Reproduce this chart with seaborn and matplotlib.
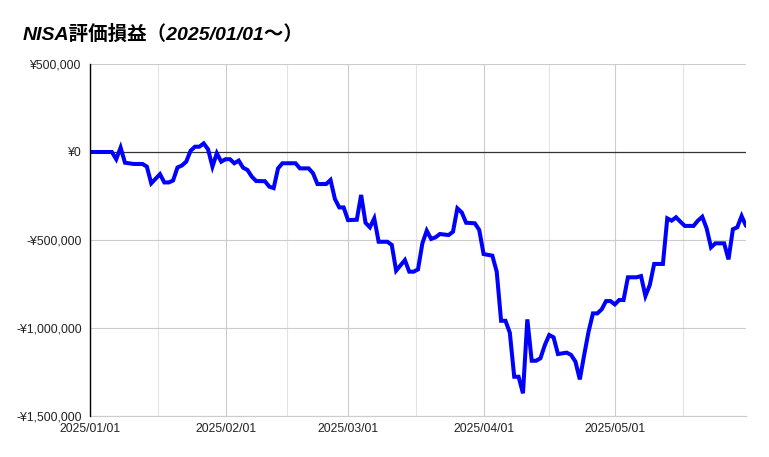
import matplotlib
matplotlib.use("Agg")
import matplotlib.pyplot as plt
import matplotlib.dates as mdates
from matplotlib.ticker import FuncFormatter, FixedLocator
import seaborn as sns
import pandas as pd

title_text = "NISA評価損益（2025/01/01～）"

dates = [
    "2025-01-01", "2025-01-06", "2025-01-07", "2025-01-08", "2025-01-09", "2025-01-11",
    "2025-01-13", "2025-01-14", "2025-01-15", "2025-01-17", "2025-01-18", "2025-01-19",
    "2025-01-20", "2025-01-21", "2025-01-22", "2025-01-23", "2025-01-24", "2025-01-25",
    "2025-01-26", "2025-01-27", "2025-01-28", "2025-01-29", "2025-01-30", "2025-01-31",
    "2025-02-01", "2025-02-02", "2025-02-03", "2025-02-04", "2025-02-05", "2025-02-06",
    "2025-02-07", "2025-02-08", "2025-02-10", "2025-02-11", "2025-02-12", "2025-02-13",
    "2025-02-14", "2025-02-17", "2025-02-18", "2025-02-20", "2025-02-21", "2025-02-22",
    "2025-02-24", "2025-02-25", "2025-02-26", "2025-02-27", "2025-02-28",
    "2025-03-01", "2025-03-03", "2025-03-04", "2025-03-05", "2025-03-06", "2025-03-07",
    "2025-03-08", "2025-03-10", "2025-03-11", "2025-03-12", "2025-03-14", "2025-03-15",
    "2025-03-16", "2025-03-17", "2025-03-18", "2025-03-19", "2025-03-20", "2025-03-21",
    "2025-03-22", "2025-03-24", "2025-03-25", "2025-03-26", "2025-03-27", "2025-03-28",
    "2025-03-30", "2025-03-31",
    "2025-04-01", "2025-04-03", "2025-04-04", "2025-04-05", "2025-04-06", "2025-04-07",
    "2025-04-08", "2025-04-09", "2025-04-10", "2025-04-11", "2025-04-12", "2025-04-13",
    "2025-04-14", "2025-04-15", "2025-04-16", "2025-04-17", "2025-04-18", "2025-04-20",
    "2025-04-21", "2025-04-22", "2025-04-23", "2025-04-24", "2025-04-25", "2025-04-26",
    "2025-04-27", "2025-04-28", "2025-04-29", "2025-04-30",
    "2025-05-01", "2025-05-02", "2025-05-03", "2025-05-04", "2025-05-06", "2025-05-07",
    "2025-05-08", "2025-05-09", "2025-05-10", "2025-05-12", "2025-05-13", "2025-05-14",
    "2025-05-15", "2025-05-16", "2025-05-17", "2025-05-19", "2025-05-20", "2025-05-21",
    "2025-05-22", "2025-05-23", "2025-05-24", "2025-05-26", "2025-05-27", "2025-05-28",
    "2025-05-29", "2025-05-30", "2025-05-31",
]

values = [
    0, 0, -41000, 25000, -61000, -68000,
    -68000, -83000, -178000, -126000, -173000, -173000,
    -162000, -88000, -77000, -55000, 7000, 30000,
    30000, 49000, 15000, -83000, -7000, -55000,
    -41000, -41000, -64000, -49000, -89000, -102000,
    -140000, -165000, -166000, -197000, -205000, -93000,
    -64000, -64000, -93000, -93000, -121000, -182000,
    -182000, -159000, -267000, -315000, -315000,
    -387000, -385000, -244000, -402000, -428000, -377000,
    -510000, -510000, -528000, -674000, -614000, -680000,
    -680000, -667000, -519000, -447000, -494000, -485000,
    -466000, -472000, -453000, -320000, -343000, -402000,
    -405000, -443000,
    -580000, -589000, -680000, -959000, -959000, -1027000,
    -1277000, -1277000, -1371000, -951000, -1186000, -1186000,
    -1172000, -1097000, -1040000, -1053000, -1148000, -1140000,
    -1153000, -1191000, -1292000, -1153000, -1021000, -917000,
    -917000, -894000, -847000, -847000,
    -866000, -841000, -841000, -712000, -712000, -705000,
    -818000, -756000, -636000, -636000, -377000, -390000,
    -371000, -396000, -420000, -420000, -390000, -368000,
    -434000, -542000, -519000, -519000, -610000, -439000,
    -428000, -364000, -420000,
]

y_ticks = [-1500000, -1000000, -500000, 0, 500000]
x_tick_dates = ["2025-01-01", "2025-02-01", "2025-03-01", "2025-04-01", "2025-05-01", "2025-06-01"]
x_range = ["2025-01-01", "2025-05-31"]

df = pd.DataFrame({"date": pd.to_datetime(dates), "value": values})

sns.set_theme(style="white")
plt.rcParams["font.family"] = ["Liberation Sans", "Noto Sans CJK JP", "DejaVu Sans"]

W, H = 769, 457
fig = plt.figure(figsize=(W / 100, H / 100), dpi=100)
ax = fig.add_axes([90 / W, 1 - 416 / H, (746 - 90) / W, (416 - 64) / H])

# grid lines
month_starts = pd.to_datetime(x_tick_dates)
mids = [month_starts[i] + (month_starts[i + 1] - month_starts[i]) / 2 for i in range(len(month_starts) - 1)]
for m in month_starts[:-1]:
    ax.axvline(m, color="#cccccc", lw=0.8, zorder=0)
for m in mids:
    ax.axvline(m, color="#e3e3e3", lw=0.8, zorder=0)
for yv in y_ticks:
    if yv != 0:
        ax.axhline(yv, color="#cccccc", lw=0.8, zorder=0)
ax.axhline(0, color="#333333", lw=0.9, zorder=1)

sns.lineplot(data=df, x="date", y="value", ax=ax, color="#0000ff", linewidth=2.9, zorder=3)
for ln in ax.get_lines():
    ln.set_solid_joinstyle("miter")

ax.set_xlim(pd.to_datetime(x_range[0]), pd.to_datetime(x_range[1]))
ax.set_ylim(y_ticks[0], y_ticks[-1])
ax.set_yticks(y_ticks)
ax.yaxis.set_major_formatter(FuncFormatter(lambda v, p: ("-" if v < 0 else "") + "¥{:,.0f}".format(abs(v))))
ax.xaxis.set_major_locator(FixedLocator(mdates.date2num(month_starts[:-1])))
ax.xaxis.set_major_formatter(mdates.DateFormatter("%Y/%m/%d"))
ax.tick_params(axis="both", length=0, labelsize=8.7, colors="#222222")
ax.tick_params(axis="y", pad=6)
ax.tick_params(axis="x", pad=5)
ax.set_xlabel("")
ax.set_ylabel("")

for s in ["top", "right"]:
    ax.spines[s].set_visible(False)
ax.spines["left"].set_color("#000000")
ax.spines["left"].set_linewidth(1.0)
ax.spines["bottom"].set_color("#cccccc")
ax.spines["bottom"].set_linewidth(0.8)
ax.spines["left"].set_zorder(4)

fig.text(23 / W, 1 - 40 / H, title_text, fontsize=14, fontweight="bold", fontstyle="italic",
         ha="left", va="baseline", color="#000000",
         family=["Liberation Sans", "Noto Sans CJK JP", "DejaVu Sans"])

fig.savefig("out.png", dpi=100, facecolor="white")
